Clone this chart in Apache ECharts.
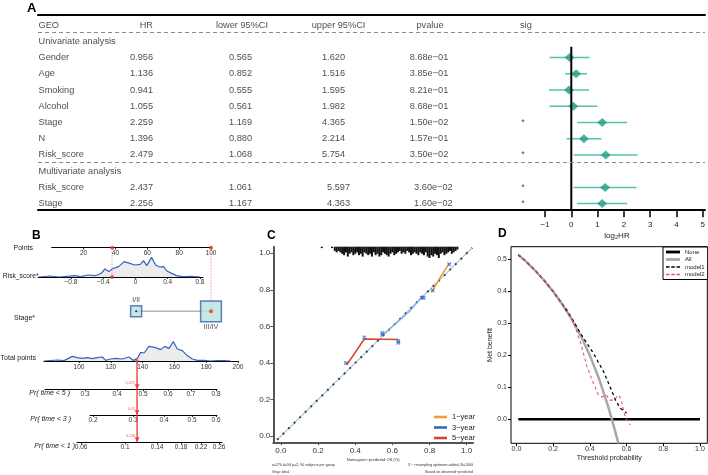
<!DOCTYPE html>
<html>
<head>
<meta charset="utf-8">
<script src="https://cdn.jsdelivr.net/npm/echarts@6/dist/echarts.min.js"></script>
<style>
html,body{margin:0;padding:0;background:#fff}
#main{width:708px;height:475px}
</style>
</head>
<body>
<div id="main"></div>
<script>
var FONT = 'Liberation Sans';

// ---- A: cox table + forest
var headers = ['GEO', 'HR', 'lower 95%CI', 'upper 95%CI', 'pvalue', 'sig'];
var groupRows = [['Univariate analysis', 1], ['Multivariate analysis', 9]];
var geoRows = ['Gender', 'Age', 'Smoking', 'Alcohol', 'Stage', 'N', 'Risk_score', 'Risk_score', 'Stage'];
var geoRowIdx = [2, 3, 4, 5, 6, 7, 8, 10, 11];
var hrVals = [0.956, 1.136, 0.941, 1.055, 2.259, 1.396, 2.479, 2.437, 2.256];
var lowerVals = [0.565, 0.852, 0.555, 0.561, 1.169, 0.880, 1.068, 1.061, 1.167];
var upperVals = [1.620, 1.516, 1.595, 1.982, 4.365, 2.214, 5.754, 5.597, 4.363];
var pVals = ['8.68e\u221201', '3.85e\u221201', '8.21e\u221201', '8.68e\u221201', '1.50e\u221202', '1.57e\u221201', '3.50e\u221202', '3.60e\u221202', '1.60e\u221202'];
var sigVals = ['', '', '', '', '*', '', '*', '*', '*'];
var log2Ticks = [0.5, 1, 2, 4, 8, 16, 32];

// ---- B: nomogram
var pointsTicks = [20, 40, 60, 80, 100];
var riskTicks = [-0.8, -0.4, 0, 0.4, 0.8];
var riskDens = [[-1.2,0],[-1.06,0.05],[-0.95,0],[-0.75,0.07],[-0.68,0.02],[-0.59,0.1],[-0.5,0.07],[-0.47,0.1],[-0.42,0.2],[-0.38,0.4],[-0.33,0.27],[-0.29,0.4],[-0.21,0.52],[-0.14,0.77],[-0.07,0.68],[-0.01,0.6],[0.06,0.63],[0.1,0.82],[0.14,0.57],[0.2,0.98],[0.25,0.6],[0.3,0.5],[0.35,0.52],[0.39,0.3],[0.45,0.18],[0.51,0.07],[0.57,0.03],[0.63,0.02],[0.7,0.03],[0.8,0]];
var stageLevels = ['I/II', 'III/IV'];
var stagePoints = [53, 100];
var stageCounts = [59, 211];
var totalTicks = [100, 120, 140, 160, 180, 200];
var totalDens = [[78,0],[86.4,0.05],[90.6,0.02],[95.8,0.23],[98.9,0.17],[102.1,0.13],[105.2,0.17],[108.4,0.12],[111.5,0.17],[114.7,0.2],[116.8,0.03],[119.9,0.1],[123.1,0.13],[127.2,0.1],[131.4,0.2],[134.2,0.03],[136.7,0.13],[138.8,0.43],[140.9,0.4],[144,0.73],[148.2,0.67],[151.4,0.57],[153.9,0.73],[156.6,0.63],[159.3,0.97],[161.8,0.6],[165,0.52],[168.1,0.27],[171.3,0.1],[174.4,0.03],[178.6,0.03],[182.8,0],[187,0.02],[191.2,0.02],[195.4,0]];
var pr5Labels = [0.3, 0.4, 0.5, 0.6, 0.7, 0.8];
var pr5At = [103.8, 123.9, 140.3, 156.0, 170.4, 186.2];
var pr3Labels = [0.2, 0.3, 0.4, 0.5, 0.6];
var pr3At = [108.8, 134.0, 153.5, 171.1, 186.2];
var pr1Labels = [0.06, 0.1, 0.14, 0.18, 0.22, 0.26];
var pr1At = [101.3, 128.9, 149.1, 164.2, 176.7, 188.1];
var patientRisk = -0.29;
var patientRiskPts = 38;
var patientStagePts = 100;
var patientTotal = 136.5;
var patientPr = ['0.472', '0.31', '0.116'];

// ---- C: calibration
var calTicks = [0, 0.2, 0.4, 0.6, 0.8, 1.0];
var idealLine = [[-0.02, -0.02], [1.03, 1.03]];
var cal1y = [[0.811,0.786],[0.856,0.866],[0.906,0.945]];
var cal3y = [[0.546,0.553],[0.6,0.6],[0.641,0.635],[0.7,0.69],[0.766,0.768]];
var cal5y = [[0.354,0.389],[0.449,0.531],[0.632,0.529]];
var calCorrected = [[0.35,0.40],[0.449,0.54],[0.632,0.52],[0.632,0.51],[0.546,0.565],[0.546,0.555],[0.758,0.757],[0.768,0.757],[0.817,0.797],[0.906,0.94]];
var rugX = [0.22,0.275,0.29,0.30,0.31,0.32,0.33,0.34,0.35,0.36,0.37,0.38,0.39,0.40,0.41,0.42,0.43,0.44,0.45,0.46,0.47,0.48,0.49,0.50,0.51,0.52,0.53,0.54,0.55,0.56,0.57,0.58,0.59,0.60,0.61,0.62,0.63,0.64,0.65,0.66,0.67,0.68,0.69,0.70,0.71,0.72,0.73,0.74,0.75,0.76,0.77,0.78,0.79,0.80,0.81,0.82,0.83,0.84,0.85,0.86,0.87,0.88,0.89,0.90,0.91,0.92,0.93,0.94,0.95];
var rugN = [1,1,3,4,3,4,5,6,4,7,5,4,6,5,4,6,5,7,4,5,6,5,7,4,6,5,7,6,4,5,6,7,5,4,6,5,4,3,5,4,5,3,4,6,5,4,5,6,4,5,6,4,7,8,6,7,5,6,8,5,4,6,5,4,3,5,4,3,2];

// ---- D: decision curve
var dcaNone = [[0.01,0],[1,0]];
var dcaAll = [[0.01,0.515],[0.05,0.495],[0.1,0.467],[0.15,0.435],[0.2,0.4],[0.25,0.36],[0.3,0.314],[0.35,0.262],[0.4,0.2],[0.45,0.127],[0.5,0.04],[0.52,0],[0.556,-0.075]];
var dcaModel1 = [[0.01,0.515],[0.05,0.495],[0.1,0.467],[0.15,0.435],[0.2,0.4],[0.25,0.36],[0.3,0.318],[0.35,0.268],[0.42,0.206],[0.475,0.149],[0.51,0.102],[0.54,0.06],[0.565,0.035],[0.6,0.02]];
var dcaModel2 = [[0.01,0.515],[0.05,0.495],[0.1,0.467],[0.15,0.435],[0.2,0.4],[0.25,0.36],[0.27,0.35],[0.29,0.33],[0.32,0.289],[0.35,0.238],[0.385,0.164],[0.42,0.112],[0.447,0.076],[0.465,0.07],[0.49,0.076],[0.51,0.06],[0.53,0.06],[0.547,0.07],[0.56,0.076],[0.575,0.05],[0.592,0.008],[0.62,-0.018]];
var dcaTicksX = [0, 0.2, 0.4, 0.6, 0.8, 1.0];
var dcaTicksY = [0, 0.1, 0.2, 0.3, 0.4, 0.5];

var RED = '#e8342c';
var BLUE = '#3a62c0';
var ICON_SOLID = 'path://M0,0H20V4H0Z';
var ICON_DASH = 'path://M0,0H5V1.8H0Z M7.5,0H12.5V1.8H7.5Z M15,0H20V1.8H15Z';

function hiddenY(gi, min, max, inv) {
	return {gridIndex: gi, type: 'value', show: false, min: min, max: max, inverse: !!inv};
}

function nomoAxis(gi, min, max, vals, fmt, margin) {
	return {
		gridIndex: gi, type: 'value', min: min, max: max, position: 'bottom',
		axisLine: {show: true, onZero: false, lineStyle: {color: '#000', width: 1}},
		axisTick: {show: true, customValues: vals, length: 2, lineStyle: {color: '#000', width: 0.8}},
		axisLabel: {customValues: vals, formatter: fmt, fontSize: 6.5, color: '#333', margin: margin},
		splitLine: {show: false}
	};
}

function minus(s) {
	return String(s).replace('-', '\u2212');
}

function lookup(at, labels) {
	return function(v) {
		var i = at.indexOf(v);
		return i < 0 ? '' : String(labels[i]);
	};
}

// table cells
var cells = [];
function cell(x, row, text, align) {
	cells.push({value: [x, row], name: text, label: {align: align}});
}
var headX = [0.5, 115, 204, 300.5, 392, 482];
var headAlign = ['left', 'right', 'center', 'center', 'center', 'left'];
headers.forEach(function(h, i) { cell(headX[i], 0, h, headAlign[i]); });
groupRows.forEach(function(g) { cell(0.5, g[1], g[0], 'left'); });
geoRowIdx.forEach(function(r, i) {
	var m = r > 9 ? 1 : 0;
	cell(0.5, r, geoRows[i], 'left');
	cell(115, r, hrVals[i].toFixed(3), 'right');
	cell(202.5, r, lowerVals[i].toFixed(3), 'center');
	cell(307 + 5 * m, r, upperVals[i].toFixed(3), 'right');
	cell(410.3 + 4.4 * m, r, pVals[i], 'right');
	if (sigVals[i]) cell(485, r, sigVals[i], 'center');
});

function prArrow(xi, yi, txt) {
	return [{
		type: 'line', xAxisIndex: xi, yAxisIndex: yi, symbol: 'none', silent: true,
		lineStyle: {color: RED, width: 1.3},
		data: [[patientTotal, 1], [patientTotal, 0]]
	}, {
		type: 'scatter', xAxisIndex: xi, yAxisIndex: yi, symbol: 'triangle', symbolRotate: 180,
		symbolSize: [5, 5], symbolOffset: [0, -2.5], itemStyle: {color: RED}, silent: true,
		data: [[patientTotal, 0]],
		label: {show: true, position: 'inside', align: 'right', verticalAlign: 'bottom', offset: [-2, -2],
			formatter: txt, fontSize: 3.8, color: RED}
	}];
}

var series = [
	// A table text
	{
		type: 'scatter', xAxisIndex: 1, yAxisIndex: 0, symbolSize: 0, silent: true, data: cells,
		label: {show: true, position: 'inside', verticalAlign: 'middle', formatter: '{b}', fontSize: 9.2, color: '#1a1a1a'},
		markLine: {
			silent: true, symbol: ['none', 'none'], label: {show: false},
			lineStyle: {type: [4, 3], color: '#8a8a8a', width: 1},
			data: [{yAxis: 0.446}, {yAxis: 8.456}]
		}
	},
	// A forest
	{
		type: 'line', xAxisIndex: 2, yAxisIndex: 1, symbol: 'none', silent: true,
		lineStyle: {color: '#000', width: 2}, data: [[1, 1.33], [1, 11.35]]
	},
	{
		type: 'custom', xAxisIndex: 2, yAxisIndex: 1, silent: true,
		encode: {x: [0, 1], y: 2},
		data: geoRowIdx.map(function(r, i) { return [lowerVals[i], upperVals[i], r]; }),
		renderItem: function(params, api) {
			var a = api.coord([api.value(0), api.value(2)]);
			var b = api.coord([api.value(1), api.value(2)]);
			return {type: 'line', shape: {x1: a[0], y1: a[1], x2: b[0], y2: b[1]},
				style: {stroke: '#55c4ae', lineWidth: 1.5}};
		}
	},
	{
		type: 'scatter', xAxisIndex: 2, yAxisIndex: 1, symbol: 'diamond', symbolSize: [10, 9], silent: true,
		itemStyle: {color: '#1f9d87'},
		data: geoRowIdx.map(function(r, i) { return [hrVals[i], r]; })
	},
	// B points
	{
		type: 'scatter', xAxisIndex: 3, yAxisIndex: 2, symbolSize: 4, itemStyle: {color: RED}, silent: true, z: 5,
		data: [[patientRiskPts, 0], [patientStagePts, 0]]
	},
	// B risk score
	{
		type: 'line', xAxisIndex: 4, yAxisIndex: 3, symbol: 'none', silent: true,
		lineStyle: {color: BLUE, width: 1.2}, areaStyle: {color: '#ececec', opacity: 1},
		data: riskDens
	},
	{
		type: 'line', xAxisIndex: 4, yAxisIndex: 3, symbol: 'none', silent: true,
		lineStyle: {color: '#f19a9a', width: 1, type: [1.5, 1.5]},
		data: [[patientRisk, 0], [patientRisk, 1.465]]
	},
	{
		type: 'scatter', xAxisIndex: 4, yAxisIndex: 3, symbolSize: 4, itemStyle: {color: RED}, silent: true, z: 5,
		data: [[patientRisk, 0]]
	},
	// B stage
	{
		type: 'line', xAxisIndex: 5, yAxisIndex: 4, symbol: 'none', silent: true,
		lineStyle: {color: '#b5b5b5', width: 1.5},
		data: stagePoints.map(function(p) { return [p, 0]; })
	},
	{
		type: 'line', xAxisIndex: 5, yAxisIndex: 4, symbol: 'none', silent: true,
		lineStyle: {color: '#f19a9a', width: 1, type: [1.5, 1.5]},
		data: [[patientStagePts, 0], [patientStagePts, 1]]
	},
	{
		type: 'scatter', xAxisIndex: 5, yAxisIndex: 4, symbol: 'rect', silent: true, z: 3,
		itemStyle: {color: '#b8e2dc', borderColor: '#3461b5', borderWidth: 1.5},
		data: stagePoints.map(function(p, i) {
			return {
				value: [p, 0], name: stageLevels[i], symbolSize: Math.sqrt(stageCounts[i]) * 1.43,
				label: {show: true, formatter: '{b}', position: i === 0 ? 'top' : 'bottom', distance: 1, fontSize: 7, color: '#222'}
			};
		})
	},
	{
		type: 'scatter', xAxisIndex: 5, yAxisIndex: 4, silent: true, z: 6,
		data: [{value: [stagePoints[0], 0], symbolSize: 2, itemStyle: {color: '#000'}},
			{value: [patientStagePts, 0], symbolSize: 4, itemStyle: {color: RED}}]
	},
	// B total points
	{
		type: 'line', xAxisIndex: 6, yAxisIndex: 5, symbol: 'none', silent: true,
		lineStyle: {color: BLUE, width: 1.2}, areaStyle: {color: '#ececec', opacity: 1},
		data: totalDens
	},
	{
		type: 'scatter', xAxisIndex: 6, yAxisIndex: 5, symbolSize: 3.5, itemStyle: {color: RED}, silent: true, z: 5,
		data: [[patientTotal, 0]]
	}
];
series = series.concat(prArrow(7, 6, patientPr[0]), prArrow(8, 7, patientPr[1]), prArrow(9, 8, patientPr[2]));

series = series.concat([
	// C rug (risk distribution)
	{
		type: 'bar', xAxisIndex: 11, yAxisIndex: 10, barWidth: 2, silent: true,
		itemStyle: {color: '#111'},
		data: rugX.map(function(x, i) { return [x, rugN[i]]; })
	},
	// C ideal
	{
		type: 'line', xAxisIndex: 10, yAxisIndex: 9, symbol: 'none', silent: true,
		lineStyle: {color: '#b3c8dc', width: 1.2}, data: idealLine
	},
	{
		type: 'line', xAxisIndex: 10, yAxisIndex: 9, symbol: 'none', silent: true,
		lineStyle: {color: '#2d3d3d', width: 2, type: [1.8, 6]}, data: idealLine
	},
	{
		name: '1\u2212year', type: 'line', xAxisIndex: 10, yAxisIndex: 9, symbol: 'none', silent: true,
		lineStyle: {color: '#f39a32', width: 1.5}, itemStyle: {color: '#f39a32'}, data: cal1y
	},
	{
		name: '3\u2212year', type: 'line', xAxisIndex: 10, yAxisIndex: 9, symbol: 'none', silent: true,
		lineStyle: {color: '#7fb0e0', width: 1.3}, itemStyle: {color: '#2e6db6'}, data: cal3y
	},
	{
		name: '5\u2212year', type: 'line', xAxisIndex: 10, yAxisIndex: 9, symbol: 'none', silent: true,
		lineStyle: {color: '#d9442f', width: 1.5}, itemStyle: {color: '#d9442f'}, data: cal5y
	},
	{
		type: 'scatter', xAxisIndex: 10, yAxisIndex: 9, silent: true, z: 4,
		symbol: 'path://M0,0L10,10M10,0L0,10', symbolSize: 3.5,
		itemStyle: {color: 'none', borderColor: '#3566c4', borderWidth: 1.2},
		data: calCorrected
	},
	// D
	{
		name: 'None', type: 'line', xAxisIndex: 12, yAxisIndex: 11, symbol: 'none', silent: true,
		lineStyle: {color: '#000', width: 2.5}, itemStyle: {color: '#000'}, data: dcaNone
	},
	{
		name: 'All', type: 'line', xAxisIndex: 12, yAxisIndex: 11, symbol: 'none', silent: true,
		lineStyle: {color: '#a8a8a8', width: 2.5}, itemStyle: {color: '#a8a8a8'}, data: dcaAll
	},
	{
		name: 'model1', type: 'line', xAxisIndex: 12, yAxisIndex: 11, symbol: 'none', silent: true,
		lineStyle: {color: '#000', width: 1.3, type: [3, 3]}, itemStyle: {color: '#000'}, data: dcaModel1
	},
	{
		name: 'model2', type: 'line', xAxisIndex: 12, yAxisIndex: 11, symbol: 'none', silent: true,
		lineStyle: {color: '#f0506a', width: 1.1, type: [3, 3]}, itemStyle: {color: '#f0506a'}, data: dcaModel2
	}
]);

var xAxes = [
	{gridIndex: 0, type: 'value', min: 0, max: 667, position: 'top',
		axisLine: {show: true, onZero: false, lineStyle: {color: '#000', width: 2}},
		axisTick: {show: false}, axisLabel: {show: false}, splitLine: {show: false}},
	{gridIndex: 0, type: 'value', min: 0, max: 667, position: 'bottom',
		axisLine: {show: true, onZero: false, lineStyle: {color: '#000', width: 2}},
		axisTick: {show: false}, axisLabel: {show: false}, splitLine: {show: false}},
	{gridIndex: 1, type: 'log', logBase: 2, min: 0.5, max: 32, position: 'bottom',
		axisLine: {show: false, onZero: false},
		axisTick: {show: true, customValues: log2Ticks, length: 8, lineStyle: {color: '#000', width: 1.5}},
		axisLabel: {customValues: log2Ticks, fontSize: 8, color: '#222', margin: 11,
			formatter: function(v) { return minus(Math.round(Math.log(v) / Math.LN2)); }},
		splitLine: {show: false}},
	nomoAxis(2, 0, 100, pointsTicks, null, 2),
	nomoAxis(3, -1.209, 0.838, riskTicks, function(v) { return minus(v); }, 2),
	{gridIndex: 4, type: 'value', min: 0, max: 100, show: false},
	nomoAxis(5, 78, 200, totalTicks, null, 2.5),
	nomoAxis(6, 78.6, 186.8, pr5At, lookup(pr5At, pr5Labels), 1.5),
	nomoAxis(7, 106.9, 186.8, pr3At, lookup(pr3At, pr3Labels), 1.5),
	nomoAxis(8, 98.7, 189.9, pr1At, lookup(pr1At, pr1Labels), 1.5),
	{gridIndex: 9, type: 'value', min: -0.041, max: 1.034, position: 'bottom',
		name: 'Nomogram\u2212predicted OS (%)', nameLocation: 'middle', nameGap: 16,
		nameTextStyle: {fontSize: 4, color: '#333'},
		axisLine: {show: true, onZero: false, lineStyle: {color: '#555', width: 2}},
		axisTick: {show: true, customValues: calTicks, length: 3, lineStyle: {color: '#555'}},
		axisLabel: {customValues: calTicks, fontSize: 8, color: '#333', margin: 4,
			formatter: function(v) { return v.toFixed(1); }},
		splitLine: {show: false}},
	{gridIndex: 10, type: 'value', min: -0.041, max: 1.034, show: false},
	{gridIndex: 11, type: 'value', min: -0.0296, max: 1.04, position: 'bottom',
		name: 'Threshold probability', nameLocation: 'middle', nameGap: 11,
		nameTextStyle: {fontSize: 7, color: '#222'},
		axisLine: {show: false, onZero: false},
		axisTick: {show: true, customValues: dcaTicksX, length: 3, lineStyle: {color: '#000'}},
		axisLabel: {customValues: dcaTicksX, fontSize: 7, color: '#333', margin: 2,
			formatter: function(v) { return v.toFixed(1); }},
		splitLine: {show: false}}
];

var yAxes = [
	hiddenY(0, -0.62, 11.35, true),
	hiddenY(1, -0.62, 11.35, true),
	hiddenY(2, 0, 1),
	hiddenY(3, 0, 1.465),
	hiddenY(4, 0, 1),
	hiddenY(5, 0, 1.5),
	hiddenY(6, 0, 1),
	hiddenY(7, 0, 1),
	hiddenY(8, 0, 1),
	{gridIndex: 9, type: 'value', min: -0.034, max: 1.036,
		axisLine: {show: true, onZero: false, lineStyle: {color: '#555', width: 2}},
		axisTick: {show: true, customValues: calTicks, length: 3, lineStyle: {color: '#555'}},
		axisLabel: {customValues: calTicks, fontSize: 8, color: '#333', margin: 3,
			formatter: function(v) { return v.toFixed(1); }},
		splitLine: {show: false}},
	hiddenY(10, 0, 8.5, true),
	{gridIndex: 11, type: 'value', min: -0.075, max: 0.54,
		name: 'Net benefit', nameLocation: 'middle', nameGap: 11, nameRotate: 90,
		nameTextStyle: {fontSize: 7, color: '#222'},
		axisLine: {show: false, onZero: false},
		axisTick: {show: true, customValues: dcaTicksY, length: 3, lineStyle: {color: '#000'}},
		axisLabel: {customValues: dcaTicksY, fontSize: 7, color: '#333', margin: 4,
			formatter: function(v) { return v.toFixed(1); }},
		splitLine: {show: false}}
];

function txt(x, y, s, opt) {
	opt = opt || {};
	return {
		type: 'text', x: x, y: y, silent: true, rotation: opt.rotation || 0,
		style: {
			text: s, fill: opt.color || '#1a1a1a', fontFamily: FONT,
			fontSize: opt.size || 7, fontWeight: opt.bold ? 'bold' : 'normal',
			fontStyle: opt.italic ? 'italic' : 'normal',
			align: opt.align || 'left', verticalAlign: 'middle',
			textAlign: opt.align || 'left', textVerticalAlign: 'middle'
		}
	};
}

var graphics = [
	txt(27, 8, 'A', {bold: true, size: 13, color: '#000'}),
	txt(32, 236, 'B', {bold: true, size: 12, color: '#000'}),
	txt(267, 236, 'C', {bold: true, size: 12, color: '#000'}),
	txt(498, 234, 'D', {bold: true, size: 12, color: '#000'}),
	txt(617, 236, 'log\u2082HR', {size: 8, align: 'center'}),
	txt(33, 247.7, 'Points', {align: 'right'}),
	txt(38.5, 276, 'Risk_score*', {align: 'right', size: 6.7}),
	txt(35, 318, 'Stage*', {align: 'right'}),
	txt(36, 358, 'Total points', {align: 'right'}),
	txt(70, 393, 'Pr( time < 5 )', {align: 'right', italic: true}),
	txt(71, 419, 'Pr( time < 3 )', {align: 'right', italic: true}),
	txt(75, 446, 'Pr( time < 1 )', {align: 'right', italic: true}),
	txt(272, 465, 'n=270 d=94 p=2, 90 subjects per group', {size: 3.6, color: '#333'}),
	txt(272, 472, 'Gray: ideal', {size: 3.6, color: '#333'}),
	txt(473, 465, 'X \u2212 resampling optimism added, B=1000', {size: 3.6, color: '#333', align: 'right'}),
	txt(473, 472, 'Based on observed\u2212predicted', {size: 3.6, color: '#333', align: 'right'})
];

var option = {
	animation: false,
	backgroundColor: '#fff',
	textStyle: {fontFamily: FONT},
	grid: [
		{left: 38, top: 15, width: 667, height: 194.3},
		{left: 545, top: 15, width: 159.5, height: 194.3},
		{left: 51.7, top: 240, width: 159.3, height: 7.7},
		{left: 38, top: 247.7, width: 165, height: 29.3},
		{left: 51.7, top: 247.7, width: 159.3, height: 63.6},
		{left: 44, top: 331, width: 194, height: 30},
		{left: 45, top: 361, width: 172, height: 28.3},
		{left: 90, top: 389.3, width: 127, height: 25.7},
		{left: 77, top: 415, width: 145, height: 27.3},
		{left: 273.3, top: 246.7, width: 199.7, height: 195.6},
		{left: 273.3, top: 246.7, width: 199.7, height: 12},
		{left: 511, top: 246.7, width: 196.3, height: 196.6, show: true, borderColor: '#000', borderWidth: 1, backgroundColor: 'transparent'}
	],
	xAxis: xAxes,
	yAxis: yAxes,
	legend: [
		{
			left: 429, top: 408, orient: 'vertical', itemGap: 2.5, itemWidth: 13, itemHeight: 8,
			textStyle: {fontSize: 7.5, color: '#222'}, selectedMode: false,
			data: [
				{name: '1\u2212year', icon: ICON_SOLID},
				{name: '3\u2212year', icon: ICON_SOLID},
				{name: '5\u2212year', icon: ICON_SOLID}
			]
		},
		{
			left: 663, top: 247, orient: 'vertical', itemGap: 1.5, itemWidth: 14, itemHeight: 7,
			padding: [2, 3, 2, 3], borderColor: '#000', borderWidth: 1, backgroundColor: '#fff',
			textStyle: {fontSize: 6, color: '#222'}, selectedMode: false,
			data: [
				{name: 'None', icon: ICON_SOLID},
				{name: 'All', icon: ICON_SOLID},
				{name: 'model1', icon: ICON_DASH},
				{name: 'model2', icon: ICON_DASH}
			]
		}
	],
	graphic: graphics,
	series: series
};

var chart = echarts.init(document.getElementById('main'));
chart.setOption(option);
</script>
</body>
</html>
